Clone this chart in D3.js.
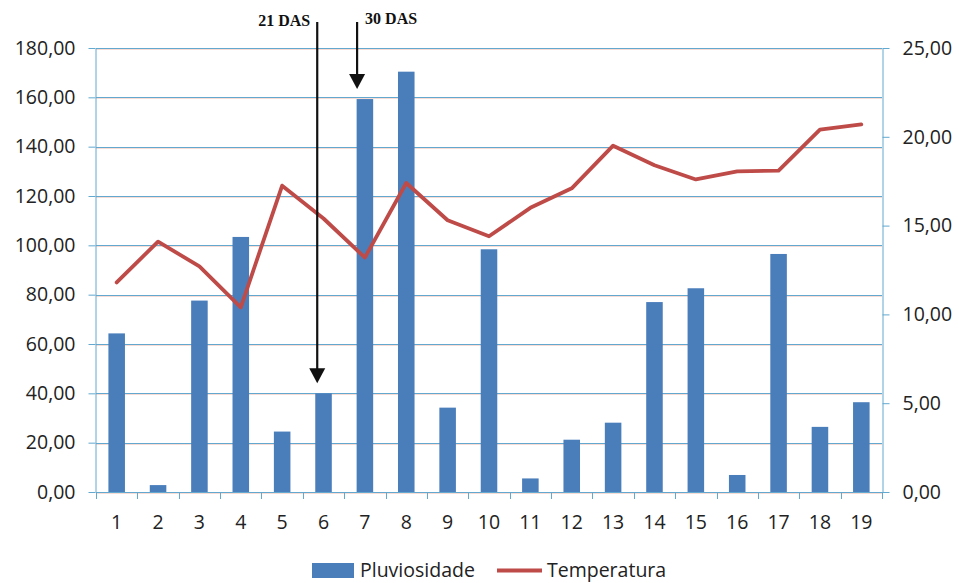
<!DOCTYPE html>
<html>
<head>
<meta charset="utf-8">
<script src="https://cdn.jsdelivr.net/npm/d3@7"></script>
<style>
  html, body { margin: 0; padding: 0; background: #fff; }
  svg { display: block; }
  .lbl { font-family: "Open Sans", "Noto Sans", sans-serif; font-size: 19.5px; fill: #222; }
  .ann { font-family: "Liberation Serif", "Times New Roman", serif; font-size: 16px; font-weight: bold; fill: #111; }
</style>
</head>
<body>
<svg id="chart" width="959" height="583"></svg>
<script>
// ---- data ----
const categories = ["1","2","3","4","5","6","7","8","9","10","11","12","13","14","15","16","17","18","19"];
const pluviosidade = [64.3, 2.8, 77.6, 103.4, 24.5, 40.0, 159.3, 170.4, 34.2, 98.4, 5.5, 21.2, 28.1, 77.0, 82.6, 6.9, 96.5, 26.4, 36.4];
const temperatura = [11.8, 14.1, 12.7, 10.4, 17.25, 15.4, 13.2, 17.4, 15.3, 14.4, 16.0, 17.1, 19.5, 18.4, 17.6, 18.05, 18.1, 20.4, 20.7];
const leftTicks = [0, 20, 40, 60, 80, 100, 120, 140, 160, 180];
const rightTicks = [0, 5, 10, 15, 20, 25];
const seriesNames = ["Pluviosidade", "Temperatura"];
const annotations = [
  { label: "21 DAS", category: "6", target: 40.0 },
  { label: "30 DAS", category: "7", target: 159.3 }
];

// ---- layout ----
const W = 959, H = 583;
const plot = { left: 96, right: 882, top: 48, bottom: 492 };
const svg = d3.select("#chart");
const barColor = "#4a7ebb", lineColor = "#be4b48", gridColor = "#62a8cf", textColor = "#222";
const fmt = d => d.toFixed(2).replace(".", ",");

const x = d3.scaleBand().domain(categories).range([plot.left, plot.right]).padding(0);
const yL = d3.scaleLinear().domain([0, 180]).range([plot.bottom, plot.top]);
const yR = d3.scaleLinear().domain([0, 25]).range([plot.bottom, plot.top]);
const barW = x.bandwidth() * 0.4;
const cx = c => x(c) + x.bandwidth() / 2;

// gridlines (with faint reddish scan shadow)
const grid = svg.append("g");
grid.selectAll("line.shadow").data(leftTicks).join("line")
  .attr("class", "shadow")
  .attr("x1", plot.left).attr("x2", plot.right)
  .attr("y1", d => Math.round(yL(d)) + 1.5).attr("y2", d => Math.round(yL(d)) + 1.5)
  .attr("stroke", "#f6dcd5").attr("stroke-width", 1);
grid.selectAll("line.g").data(leftTicks).join("line")
  .attr("class", "g")
  .attr("x1", plot.left).attr("x2", plot.right)
  .attr("y1", d => Math.round(yL(d)) + 0.5).attr("y2", d => Math.round(yL(d)) + 0.5)
  .attr("stroke", gridColor).attr("stroke-width", 1);

// left axis
const axL = svg.append("g").attr("transform", `translate(${plot.left - 0.5},0)`)
  .call(d3.axisLeft(yL).tickValues(leftTicks).tickFormat(fmt).tickSize(7).tickPadding(13).tickSizeOuter(0));
axL.select(".domain").attr("stroke", gridColor);
axL.selectAll(".tick line").attr("stroke", gridColor);
axL.selectAll("text").attr("class", "lbl").attr("fill", textColor).attr("font-family", null).attr("font-size", null);

// right axis
const axR = svg.append("g").attr("transform", `translate(${plot.right + 0.5},0)`)
  .call(d3.axisRight(yR).tickValues(rightTicks).tickFormat(fmt).tickSize(7).tickPadding(13).tickSizeOuter(0));
axR.select(".domain").attr("stroke", gridColor);
axR.selectAll(".tick line").attr("stroke", gridColor);
axR.selectAll("text").attr("class", "lbl").attr("fill", textColor).attr("font-family", null).attr("font-size", null);

// x axis: ticks at category boundaries
const bounds = categories.map(c => x(c)).concat([plot.right]);
svg.append("g").selectAll("line").data(bounds).join("line")
  .attr("x1", d => Math.round(d) + 0.5).attr("x2", d => Math.round(d) + 0.5)
  .attr("y1", plot.bottom).attr("y2", plot.bottom + 7)
  .attr("stroke", gridColor);
svg.append("g").selectAll("text").data(categories).join("text")
  .attr("class", "lbl")
  .attr("x", d => cx(d)).attr("y", plot.bottom + 37)
  .attr("text-anchor", "middle")
  .text(d => d);

// bars
svg.append("g").selectAll("rect").data(pluviosidade).join("rect")
  .attr("x", (d, i) => cx(categories[i]) - barW / 2)
  .attr("y", d => yL(d))
  .attr("width", barW)
  .attr("height", d => yL(0) - yL(d))
  .attr("fill", barColor);

// temperature line
const line = d3.line().x((d, i) => cx(categories[i])).y(d => yR(d));
svg.append("path").datum(temperatura)
  .attr("d", line)
  .attr("fill", "none")
  .attr("stroke", lineColor)
  .attr("stroke-width", 3.8)
  .attr("stroke-linejoin", "round")
  .attr("stroke-linecap", "round");

// annotations (arrows)
const ann = svg.append("g");
annotations.forEach((a, k) => {
  const ax = cx(a.category) - (k === 0 ? 6.3 : 7.8);
  const tip = yL(a.target) - 10;
  ann.append("line")
    .attr("x1", ax).attr("x2", ax)
    .attr("y1", 22).attr("y2", tip - 12)
    .attr("stroke", "#111").attr("stroke-width", 2.2);
  ann.append("path")
    .attr("d", `M${ax - 8},${tip - 15} L${ax + 8},${tip - 15} L${ax},${tip} Z`)
    .attr("fill", "#111");
  if (k === 0) {
    ann.append("text").attr("class", "ann")
      .attr("x", ax - 7).attr("y", 26).attr("text-anchor", "end").text(a.label);
  } else {
    ann.append("text").attr("class", "ann")
      .attr("x", ax + 8).attr("y", 24).attr("text-anchor", "start").text(a.label);
  }
});

// legend
const lg = svg.append("g");
lg.append("rect").attr("x", 312).attr("y", 563).attr("width", 42).attr("height", 15).attr("fill", barColor);
lg.append("text").attr("class", "lbl").attr("x", 360).attr("y", 577).text(seriesNames[0]);
lg.append("line").attr("x1", 497).attr("x2", 542).attr("y1", 570.5).attr("y2", 570.5)
  .attr("stroke", lineColor).attr("stroke-width", 4);
lg.append("text").attr("class", "lbl").attr("x", 547).attr("y", 577).text(seriesNames[1]);
</script>
</body>
</html>
